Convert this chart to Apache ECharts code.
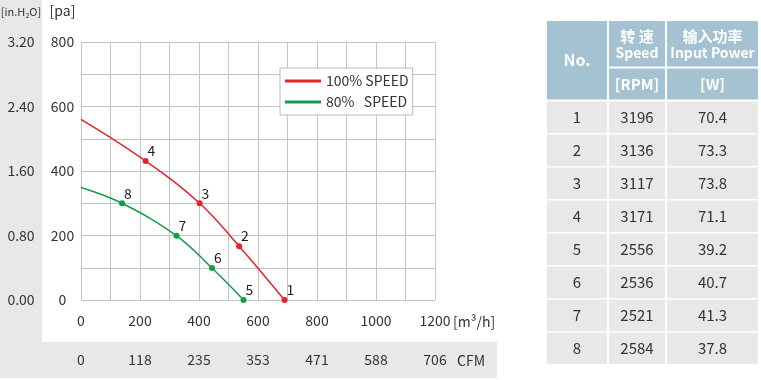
<!DOCTYPE html>
<html>
<head>
<meta charset="utf-8">
<script src="https://cdn.jsdelivr.net/npm/echarts@6/dist/echarts.min.js"></script>
<style>
html,body{margin:0;padding:0;background:#fff;}
#chart{width:761px;height:380px;}
</style>
</head>
<body>
<div id="chart"></div>
<script>
// ---- data ----
const flow100 = [0, 219, 402, 536, 690];
const pa100 = [560, 431, 300, 167, 0];
const pointNo100 = ['', '4', '3', '2', '1'];
const flow80 = [0, 139, 324, 444, 551];
const pa80 = [349, 300, 199, 99, 0];
const pointNo80 = ['', '8', '7', '6', '5'];
const cfmLabels = ['0', '118', '235', '353', '471', '588', '706'];
const seriesNames = ['100% SPEED', '80%   SPEED'];
const tableNo = ['1', '2', '3', '4', '5', '6', '7', '8'];
const tableRpm = ['3196', '3136', '3117', '3171', '2556', '2536', '2521', '2584'];
const tablePower = ['70.4', '73.3', '73.8', '71.1', '39.2', '40.7', '41.3', '37.8'];

const FONT = '"Noto Sans CJK SC", "Noto Sans", sans-serif';
const RED = '#e8222b';
const GREEN = '#0d9e4a';
const GRID_C = '#c4c4c4';
const TXT = '#333';

function mkData(xs, ys, nos) {
  return xs.map((x, i) => ({
    value: [x, ys[i]],
    no: nos[i],
    symbol: nos[i] ? 'circle' : 'none'
  }));
}

// ---- table graphics ----
const HEAD = '#a4c2d1';
const BODY = '#e8e8e8';
const cols = [{x: 547, w: 60}, {x: 609, w: 56}, {x: 667, w: 91}];
const g = [];
g.push({type: 'rect', z: -10, shape: {x: 0, y: 0, width: 42, height: 378}, style: {fill: BODY}});
g.push({type: 'rect', z: -10, shape: {x: 0, y: 342, width: 497, height: 36}, style: {fill: BODY}});
g.push({type: 'rect', shape: {x: cols[0].x, y: 21, width: cols[0].w, height: 78.5}, style: {fill: HEAD}});
g.push({type: 'rect', shape: {x: cols[1].x, y: 21, width: cols[1].w, height: 45.5}, style: {fill: HEAD}});
g.push({type: 'rect', shape: {x: cols[2].x, y: 21, width: cols[2].w, height: 45.5}, style: {fill: HEAD}});
g.push({type: 'rect', shape: {x: cols[1].x, y: 68.5, width: cols[1].w, height: 31}, style: {fill: HEAD}});
g.push({type: 'rect', shape: {x: cols[2].x, y: 68.5, width: cols[2].w, height: 31}, style: {fill: HEAD}});
function txt(t, cx, cy, size, weight, color, align) {
  return {type: 'text', z: 5, style: {text: t, x: cx, y: cy, fill: color, fontSize: size, fontWeight: weight,
    fontFamily: FONT, align: align || 'center', verticalAlign: 'middle'}};
}
const cxs = cols.map(c => c.x + c.w / 2);
g.push(txt('No.', cxs[0], 60, 16, 'bold', '#fff'));
g.push(txt('转 速', cxs[1], 36.5, 15, 'bold', '#fff'));
g.push(txt('Speed', cxs[1], 52.5, 14, 'bold', '#fff'));
g.push(txt('输入功率', cxs[2], 36.5, 15, 'bold', '#fff'));
g.push(txt('Input Power', cxs[2], 52.5, 14, 'bold', '#fff'));
g.push(txt('[RPM]', cxs[1], 84, 15, 'bold', '#fff'));
g.push(txt('[W]', cxs[2], 84, 15, 'bold', '#fff'));
for (let i = 0; i < tableNo.length; i++) {
  const y = 101.5 + i * 33;
  const vals = [tableNo[i], tableRpm[i], tablePower[i]];
  for (let c = 0; c < 3; c++) {
    g.push({type: 'rect', shape: {x: cols[c].x, y: y, width: cols[c].w, height: 31.5}, style: {fill: BODY}});
    g.push(txt(vals[c], cxs[c], y + 16, 15, 'normal', TXT));
  }
}
// axis unit names
g.push(txt('[pa]', 62.5, 11, 14, 'normal', TXT));
g.push({type: 'text', z: 5, style: {text: '[in.H{s|2}O]', x: 21, y: 12, fill: TXT, fontSize: 11,
  fontFamily: FONT, align: 'center', verticalAlign: 'middle',
  rich: {s: {fontSize: 7, fill: TXT, fontFamily: FONT, padding: [6, 0, 0, 0]}}}});
g.push(txt('[m³/h]', 453, 321.5, 14, 'normal', TXT, 'left'));
g.push(txt('CFM', 457, 361, 14, 'normal', TXT, 'left'));

const chart = echarts.init(document.getElementById('chart'), null, {renderer: 'canvas'});
const labelCfg = {show: true, position: [5, -14], fontSize: 14, color: '#222', fontFamily: FONT,
  formatter: p => p.data.no};
const option = {
  animation: false,
  textStyle: {fontFamily: FONT},
  grid: {left: 81, right: 326, top: 42, bottom: 80},
  legend: {
    orient: 'vertical', left: 280, top: 68,
    padding: [5, 4, 5, 5], itemGap: 5, itemWidth: 36, itemHeight: 3, icon: 'rect',
    backgroundColor: '#fff', borderColor: '#bbb', borderWidth: 1,
    textStyle: {fontSize: 14, color: TXT, lineHeight: 16, fontFamily: FONT},
    data: seriesNames
  },
  xAxis: [{
    type: 'value', min: 0, max: 1200, interval: 200, position: 'bottom',
    axisLine: {show: false}, axisTick: {show: false},
    splitLine: {lineStyle: {color: GRID_C, width: 1}},
    minorTick: {show: false, splitNumber: 2},
    minorSplitLine: {show: true, lineStyle: {color: GRID_C, width: 1}},
    axisLabel: {margin: 14, fontSize: 14, color: TXT, formatter: v => String(v)}
  }, {
    type: 'value', min: 0, max: 1200, interval: 200, position: 'bottom', offset: 39,
    axisLine: {show: false}, axisTick: {show: false}, splitLine: {show: false},
    axisLabel: {margin: 14, fontSize: 14, color: TXT, formatter: v => cfmLabels[Math.round(v / 200)]}
  }],
  yAxis: [{
    type: 'value', min: 0, max: 800, interval: 200, position: 'left', offset: 18.5,
    axisLine: {show: false}, axisTick: {show: false},
    splitLine: {lineStyle: {color: GRID_C, width: 1}},
    minorTick: {show: false, splitNumber: 2},
    minorSplitLine: {show: true, lineStyle: {color: GRID_C, width: 1}},
    axisLabel: {align: 'center', margin: 0, fontSize: 14, color: TXT}
  }, {
    type: 'value', min: 0, max: 3.2, interval: 0.8, position: 'left', offset: 60,
    axisLine: {show: false}, axisTick: {show: false}, splitLine: {show: false},
    axisLabel: {align: 'center', margin: 0, fontSize: 14, color: TXT, formatter: v => v.toFixed(2)}
  }],
  graphic: g,
  series: [{
    type: 'line', name: seriesNames[0], color: RED, xAxisIndex: 0, yAxisIndex: 0,
    smooth: 0.4, symbolSize: 6,
    lineStyle: {color: RED, width: 1.5}, itemStyle: {color: RED},
    label: labelCfg,
    data: mkData(flow100, pa100, pointNo100)
  }, {
    type: 'line', name: seriesNames[1], color: GREEN, xAxisIndex: 0, yAxisIndex: 0,
    smooth: 0.4, symbolSize: 6,
    lineStyle: {color: GREEN, width: 1.5}, itemStyle: {color: GREEN},
    label: labelCfg,
    data: mkData(flow80, pa80, pointNo80)
  }]
};
chart.setOption(option);
</script>
</body>
</html>
